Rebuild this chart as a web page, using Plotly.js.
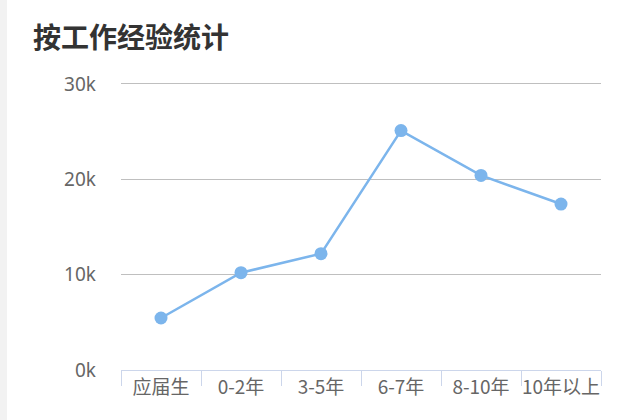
<!DOCTYPE html>
<html>
<head>
<meta charset="utf-8">
<script src="https://cdn.plot.ly/plotly-3.0.1.min.js"></script>
<style>
    body { margin: 0; background: #fff; }
    #wrap { position: relative; width: 640px; height: 420px; overflow: hidden; }
    #stripe { position: absolute; left: 0; top: 0; width: 7px; height: 420px; background: #f2f2f2; }
    #myChart { position: absolute; left: 0; top: 0; width: 640px; height: 420px; }
</style>
</head>
<body>
<div id="wrap">
    <div id="myChart"></div>
    <div id="stripe"></div>
</div>
<script>
// Chart data
const chartTitle = '按工作经验统计';
const categories = ['应届生', '0-2年', '3-5年', '6-7年', '8-10年', '10年以上'];
const salaries = [5450, 10200, 12200, 25100, 20400, 17400];
const yTickVals = [0, 10000, 20000, 30000];
const yTickText = ['0k', '10k', '20k', '30k'];

const chartDiv = () => document.getElementById('myChart');
const fontFamily = '"Noto Sans", "Noto Sans CJK SC", sans-serif';

function drawChart() {
    const traces = [{
        x: categories, y: salaries,
        type: 'scatter', mode: 'lines+markers',
        line: { color: '#7cb5ec', width: 2.5 },
        marker: { color: '#7cb5ec', size: 13 },
        hoverinfo: 'x+y'
    }];
    const layout = {
        width: 640, height: 420,
        margin: { l: 121, r: 39, t: 81, b: 50 },
        paper_bgcolor: 'rgba(0,0,0,0)', plot_bgcolor: '#fff',
        showlegend: false,
        title: {
            text: chartTitle, xref: 'container', yref: 'container',
            x: 33 / 640, xanchor: 'left', y: 1 - 38 / 420, yanchor: 'middle',
            font: { family: '"Noto Sans CJK SC", sans-serif', size: 28, weight: 'bold', color: '#333' }
        },
        xaxis: {
            type: 'category', range: [-0.5, 5.5],
            showgrid: false, zeroline: false,
            showline: true, linecolor: '#ccd6eb', linewidth: 1,
            ticks: 'outside', tickson: 'boundaries', ticklen: 15, tickcolor: '#ccd6eb', tickwidth: 1,
            tickangle: 0,
            tickfont: { family: '"Noto Sans CJK SC", sans-serif', size: 19, color: '#666' },
            fixedrange: true
        },
        yaxis: {
            // headroom so the 30k gridline at the top is drawn
            range: [0, 30300], tickvals: yTickVals, ticktext: yTickText,
            showgrid: true, gridcolor: '#bfbfbf', gridwidth: 1,
            zeroline: false, showline: false, ticks: '',
            ticklabelstandoff: 24,
            tickfont: { family: fontFamily, size: 19, color: '#666' },
            fixedrange: true
        }
    };
    Plotly.newPlot(chartDiv(), traces, layout, { displayModeBar: false, staticPlot: true });
}

drawChart();
</script>
</body>
</html>
